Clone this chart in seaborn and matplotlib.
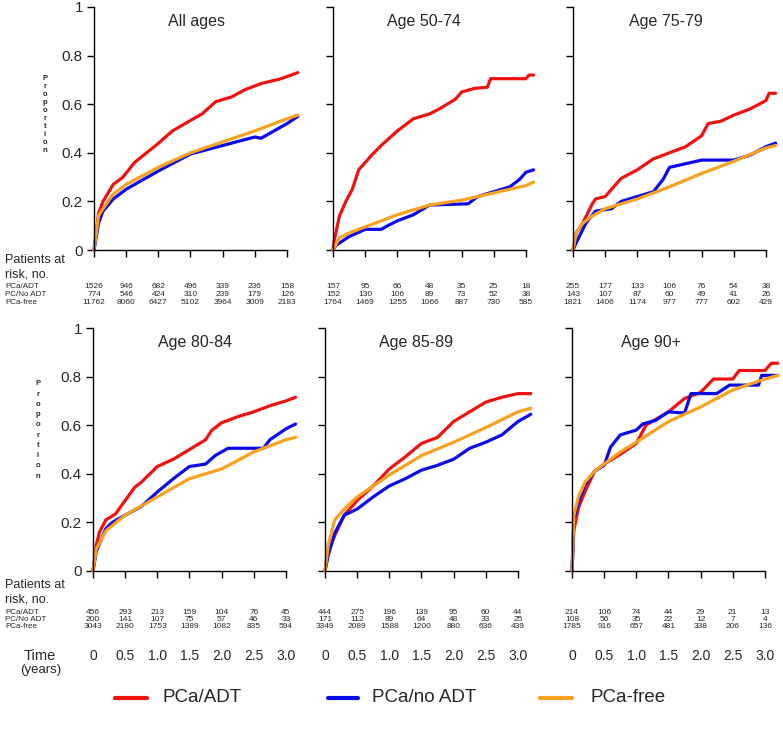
import numpy as np
import pandas as pd
import matplotlib.pyplot as plt
import matplotlib.transforms as mtransforms
from matplotlib.lines import Line2D
import seaborn as sns

# curvas de incidencia acumulada (tempo em anos, proporcao)
all_red_t = [0, 0.07, 0.14, 0.3, 0.45, 0.63, 0.96, 1.22, 1.48, 1.68, 1.89, 2.14, 2.35, 2.6, 2.91, 3.17]
all_red_p = [0, 0.15, 0.20, 0.27, 0.30, 0.36, 0.43, 0.49, 0.53, 0.56, 0.61, 0.63, 0.66, 0.685, 0.705, 0.73]
all_blue_t = [0, 0.07, 0.14, 0.3, 0.5, 1.0, 1.5, 2.0, 2.5, 2.6, 3.0, 3.17]
all_blue_p = [0, 0.11, 0.16, 0.21, 0.25, 0.325, 0.395, 0.43, 0.465, 0.46, 0.52, 0.55]
all_orange_t = [0, 0.07, 0.14, 0.3, 0.5, 1.0, 1.5, 2.0, 2.5, 3.0, 3.17]
all_orange_p = [0, 0.14, 0.17, 0.23, 0.27, 0.34, 0.40, 0.445, 0.49, 0.54, 0.555]

a5074_red_t = [0, 0.02, 0.1, 0.2, 0.3, 0.4, 0.5, 0.6, 0.75, 1.0, 1.1, 1.25, 1.5, 1.65, 1.9, 2.0, 2.2, 2.4, 2.45, 3.0, 3.05, 3.12]
a5074_red_p = [0, 0.04, 0.14, 0.20, 0.25, 0.33, 0.36, 0.39, 0.43, 0.49, 0.51, 0.54, 0.56, 0.58, 0.62, 0.65, 0.665, 0.67, 0.705, 0.705, 0.72, 0.72]
a5074_blue_t = [0, 0.05, 0.25, 0.5, 0.75, 0.85, 1.0, 1.25, 1.5, 2.1, 2.25, 2.5, 2.75, 2.9, 3.0, 3.12]
a5074_blue_p = [0, 0.02, 0.055, 0.085, 0.085, 0.10, 0.12, 0.145, 0.185, 0.19, 0.22, 0.24, 0.26, 0.29, 0.32, 0.33]
a5074_orange_t = [0, 0.1, 0.25, 0.5, 1.0, 1.5, 2.0, 2.5, 3.0, 3.12]
a5074_orange_p = [0, 0.05, 0.07, 0.095, 0.145, 0.185, 0.205, 0.235, 0.265, 0.28]

a7579_red_t = [0, 0.05, 0.15, 0.3, 0.35, 0.5, 0.6, 0.75, 1.0, 1.25, 1.5, 1.75, 2.0, 2.1, 2.3, 2.5, 2.75, 3.0, 3.05, 3.15]
a7579_red_p = [0, 0.07, 0.11, 0.19, 0.21, 0.22, 0.25, 0.295, 0.33, 0.375, 0.40, 0.425, 0.47, 0.52, 0.53, 0.555, 0.58, 0.615, 0.645, 0.645]
a7579_blue_t = [0, 0.05, 0.2, 0.35, 0.6, 0.75, 1.0, 1.25, 1.4, 1.5, 1.75, 2.0, 2.5, 2.75, 3.0, 3.15]
a7579_blue_p = [0, 0.03, 0.11, 0.16, 0.17, 0.20, 0.22, 0.24, 0.29, 0.34, 0.355, 0.37, 0.37, 0.39, 0.425, 0.44]
a7579_orange_t = [0, 0.05, 0.15, 0.3, 0.5, 1.0, 1.5, 2.0, 2.5, 3.0, 3.15]
a7579_orange_p = [0, 0.07, 0.11, 0.14, 0.17, 0.21, 0.26, 0.315, 0.365, 0.42, 0.43]

a8084_red_t = [0, 0.05, 0.1, 0.2, 0.35, 0.5, 0.65, 0.75, 1.0, 1.25, 1.5, 1.75, 1.85, 2.0, 2.25, 2.5, 2.75, 3.0, 3.15]
a8084_red_p = [0, 0.105, 0.16, 0.21, 0.235, 0.29, 0.345, 0.365, 0.43, 0.46, 0.50, 0.54, 0.58, 0.61, 0.635, 0.655, 0.68, 0.70, 0.715]
a8084_blue_t = [0, 0.05, 0.2, 0.3, 0.5, 0.75, 1.0, 1.25, 1.5, 1.75, 1.9, 2.1, 2.65, 2.75, 3.0, 3.15]
a8084_blue_p = [0, 0.08, 0.175, 0.20, 0.23, 0.265, 0.325, 0.38, 0.43, 0.44, 0.475, 0.505, 0.505, 0.54, 0.585, 0.605]
a8084_orange_t = [0, 0.05, 0.2, 0.5, 1.0, 1.5, 2.0, 2.5, 3.0, 3.15]
a8084_orange_p = [0, 0.09, 0.165, 0.23, 0.305, 0.38, 0.42, 0.49, 0.54, 0.55]

a8589_red_t = [0, 0.05, 0.15, 0.3, 0.5, 0.75, 1.0, 1.25, 1.5, 1.75, 2.0, 2.25, 2.5, 2.75, 3.0, 3.2]
a8589_red_p = [0, 0.08, 0.145, 0.23, 0.29, 0.35, 0.42, 0.47, 0.525, 0.55, 0.615, 0.655, 0.695, 0.715, 0.73, 0.73]
a8589_blue_t = [0, 0.05, 0.15, 0.3, 0.5, 0.75, 1.0, 1.25, 1.5, 1.75, 2.0, 2.25, 2.5, 2.75, 3.0, 3.2]
a8589_blue_p = [0, 0.065, 0.155, 0.23, 0.255, 0.305, 0.35, 0.38, 0.415, 0.435, 0.46, 0.505, 0.53, 0.56, 0.615, 0.645]
a8589_orange_t = [0, 0.05, 0.15, 0.3, 0.5, 1.0, 1.5, 2.0, 2.5, 3.0, 3.2]
a8589_orange_p = [0, 0.105, 0.21, 0.255, 0.305, 0.395, 0.475, 0.53, 0.59, 0.655, 0.67]

a90_red_t = [0, 0.03, 0.1, 0.2, 0.35, 0.5, 0.75, 1.0, 1.15, 1.5, 1.75, 2.0, 2.2, 2.5, 2.6, 3.0, 3.1, 3.2]
a90_red_p = [0, 0.17, 0.26, 0.325, 0.41, 0.44, 0.48, 0.525, 0.60, 0.655, 0.71, 0.735, 0.79, 0.79, 0.825, 0.825, 0.855, 0.855]
a90_blue_t = [0, 0.03, 0.1, 0.2, 0.35, 0.5, 0.6, 0.75, 1.0, 1.1, 1.3, 1.5, 1.75, 1.85, 2.25, 2.45, 2.9, 2.95, 3.2]
a90_blue_p = [0, 0.215, 0.285, 0.355, 0.41, 0.435, 0.51, 0.56, 0.58, 0.605, 0.62, 0.655, 0.65, 0.73, 0.73, 0.765, 0.765, 0.805, 0.805]
a90_orange_t = [0, 0.03, 0.1, 0.2, 0.35, 0.5, 0.75, 1.0, 1.5, 2.0, 2.5, 3.0, 3.2]
a90_orange_p = [0, 0.23, 0.305, 0.365, 0.41, 0.44, 0.49, 0.53, 0.615, 0.675, 0.745, 0.79, 0.805]

# pacientes em risco, no. (PCa/ADT, PC/No ADT, PCa-free)
risk_all = [[1526, 946, 682, 496, 339, 236, 158], [774, 546, 424, 310, 239, 179, 126],
            [11762, 8060, 6427, 5102, 3964, 3009, 2183]]
risk_5074 = [[157, 95, 66, 48, 35, 25, 18], [152, 130, 106, 89, 73, 52, 38],
             [1764, 1469, 1255, 1066, 887, 730, 585]]
risk_7579 = [[255, 177, 133, 106, 76, 54, 38], [143, 107, 87, 60, 49, 41, 26],
             [1821, 1406, 1174, 977, 777, 602, 429]]
risk_8084 = [[456, 293, 213, 159, 104, 76, 45], [200, 141, 107, 75, 57, 46, 33],
             [3043, 2180, 1753, 1389, 1082, 835, 594]]
risk_8589 = [[444, 275, 196, 139, 95, 60, 44], [171, 112, 89, 64, 48, 33, 25],
             [3349, 2089, 1588, 1200, 880, 636, 439]]
risk_90 = [[214, 106, 74, 44, 29, 21, 13], [108, 56, 35, 22, 12, 7, 4],
           [1785, 916, 657, 481, 338, 206, 136]]

titles = ['All ages', 'Age 50-74', 'Age 75-79', 'Age 80-84', 'Age 85-89', 'Age 90+']
groups = ['PCa/ADT', 'PCa/no ADT', 'PCa-free']
risk_labels = ['PCa/ADT', 'PC/No ADT', 'PCa-free']
time_ticks = [0, 0.5, 1.0, 1.5, 2.0, 2.5, 3.0]
time_labels = ['0', '0.5', '1.0', '1.5', '2.0', '2.5', '3.0']
cores = {'PCa/ADT': '#f01010', 'PCa/no ADT': '#0a0aea', 'PCa-free': '#f7a11e'}

paineis = [
    (all_red_t, all_red_p, all_blue_t, all_blue_p, all_orange_t, all_orange_p, risk_all),
    (a5074_red_t, a5074_red_p, a5074_blue_t, a5074_blue_p, a5074_orange_t, a5074_orange_p, risk_5074),
    (a7579_red_t, a7579_red_p, a7579_blue_t, a7579_blue_p, a7579_orange_t, a7579_orange_p, risk_7579),
    (a8084_red_t, a8084_red_p, a8084_blue_t, a8084_blue_p, a8084_orange_t, a8084_orange_p, risk_8084),
    (a8589_red_t, a8589_red_p, a8589_blue_t, a8589_blue_p, a8589_orange_t, a8589_orange_p, risk_8589),
    (a90_red_t, a90_red_p, a90_blue_t, a90_blue_p, a90_orange_t, a90_orange_p, risk_90),
]

sns.set_style('ticks')
plt.rcParams['font.family'] = ['Liberation Sans', 'DejaVu Sans']

W, H = 783, 732
fig = plt.figure(figsize=(W / 100, H / 100), dpi=100)

# posicoes em pixels: (x0, topo) de cada painel
pos = [(94, 7), (333, 7), (573, 7), (93, 328), (325, 328), (572, 328)]
larg, alt = 209, 243
xmax = 3.25
titulo_x = [1.6, 1.42, 1.45, 1.58, 1.41, 1.23]


def fy(ypix):
    return 1 - ypix / H


for i, (rt, rp, bt, bp, ot, op, risco) in enumerate(paineis):
    x0, top = pos[i]
    ax = fig.add_axes([x0 / W, fy(top + alt), larg / W, alt / H])
    df = pd.concat([
        pd.DataFrame({'tempo': rt, 'prop': rp, 'grupo': groups[0]}),
        pd.DataFrame({'tempo': bt, 'prop': bp, 'grupo': groups[1]}),
        pd.DataFrame({'tempo': ot, 'prop': op, 'grupo': groups[2]}),
    ], ignore_index=True)
    sns.lineplot(data=df, x='tempo', y='prop', hue='grupo', palette=cores, estimator=None,
                 sort=False, linewidth=2.3, legend=False, ax=ax)
    for ln in ax.lines:
        ln.set_clip_on(False)
    ax.set_xlim(0, xmax)
    ax.set_ylim(0, 1)
    ax.set_xticks(time_ticks)
    ax.set_xticklabels([])
    ax.set_yticks([0, 0.2, 0.4, 0.6, 0.8, 1.0])
    if i % 3 == 0:
        ax.set_yticklabels(['0', '0.2', '0.4', '0.6', '0.8', '1'], fontsize=11)
    else:
        ax.set_yticklabels([])
    ax.set_xlabel('')
    ax.set_ylabel('')
    sns.despine(ax=ax)
    ax.spines['left'].set_bounds(0, 1)
    ax.spines['bottom'].set_bounds(0, 3)
    for s in ['left', 'bottom']:
        ax.spines[s].set_color('black')
        ax.spines[s].set_linewidth(1)
    ax.tick_params(length=5, width=1, color='black', pad=3)
    ax.text(titulo_x[i], 0.94, titles[i], transform=mtransforms.blended_transform_factory(ax.transData, ax.transAxes),
            ha='center', va='center', fontsize=11.5)

    # tabela de pacientes em risco
    tr = mtransforms.blended_transform_factory(ax.transData, fig.transFigure)
    base = 287 if i < 3 else 612
    for k, linha in enumerate(risco):
        for t, n in zip(time_ticks, linha):
            ax.text(t, fy(base + 7.5 * k), str(n), transform=tr, ha='center', va='center',
                    fontsize=6, clip_on=False)

    # eixo de tempo abaixo da linha de baixo
    if i >= 3:
        for t, lab in zip(time_ticks, time_labels):
            ax.text(t, fy(656), lab, transform=tr, ha='center', va='center', fontsize=10, clip_on=False)

# textos da esquerda
for base, yprop, xprop, esp in [(287, 114, 45, 1.2), (612, 430, 38, 1.65)]:
    fig.text(5 / W, fy(base - 20), 'Patients at\nrisk, no.', ha='left', va='center', fontsize=9, linespacing=1.3)
    for k, lab in enumerate(risk_labels):
        fig.text(5 / W, fy(base + 7.5 * k), lab, ha='left', va='center', fontsize=5.8)
    fig.text(xprop / W, fy(yprop), '\n'.join('Proportion'), ha='center', va='center',
             fontsize=5.5, fontweight='bold', linespacing=esp)

fig.text(40 / W, fy(656), 'Time', ha='center', va='center', fontsize=10.5)
fig.text(41 / W, fy(670), '(years)', ha='center', va='center', fontsize=9.5)

# legenda
for (x1, x2, xt), g in zip([(115, 147, 163), (328, 358, 372), (540, 572, 590)], groups):
    fig.add_artist(Line2D([x1 / W, x2 / W], [fy(698), fy(698)], color=cores[g], linewidth=3,
                          transform=fig.transFigure))
    fig.text(xt / W, fy(698), g, ha='left', va='center', fontsize=13.5)

plt.savefig('out.png', dpi=100)
